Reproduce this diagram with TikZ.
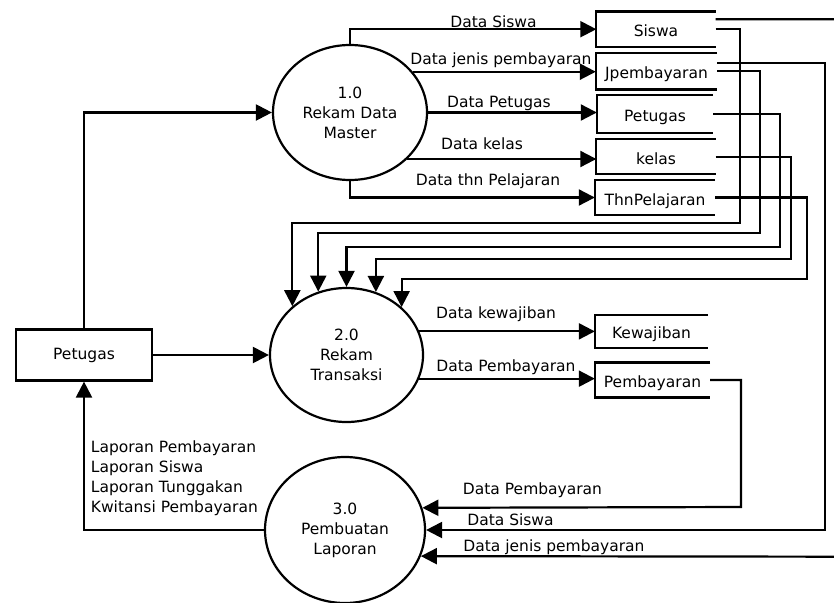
\documentclass[tikz,border=0pt]{standalone}
\usepackage{fontspec}
\setmainfont{DejaVu Sans}
\usetikzlibrary{arrows.meta,shapes.geometric}
\begin{document}
\begin{tikzpicture}[x=1pt,y=-1pt,
  every node/.style={font=\fontsize{15.5}{20}\selectfont},
  line/.style={line width=2.2pt},
  flow/.style={line, -{Triangle[length=16pt,width=16pt]}},
  process/.style={ellipse, draw, line width=2.2pt, inner sep=0pt, align=center},
  entity/.style={rectangle, draw, line width=2.2pt, minimum width=136pt, minimum height=51pt},
  store/.style={rectangle, inner sep=0pt, minimum width=119pt, minimum height=35pt,
                text height=15pt, text depth=0pt},
  lbl/.style={inner sep=0pt, text height=11pt, text depth=0pt},
]
\useasboundingbox (0,0) rectangle (834,602);
\clip (0,0) rectangle (834,602);

% processes
\node[process, minimum width=154pt, minimum height=135pt] (c1) at (350,112.5) {1.0\\Rekam Data\\Master};
\node[process, minimum width=153pt, minimum height=134pt] (c2) at (346.5,355) {2.0\\Rekam\\Transaksi};
\node[process, minimum width=160pt, minimum height=146pt] (c3) at (345,530) {3.0\\Pembuatan\\Laporan};

% external entity
\node[entity] (pet) at (84,355) {Petugas};

% data stores
\node[store] (ssiswa) at (656,29.2) {Siswa};
\node[store, minimum width=121pt, minimum height=36pt] (sjp) at (656.5,71.3) {Jpembayaran};
\node[store, minimum width=116pt, minimum height=37.5pt] (spet) at (655,113.9) {Petugas};
\node[store, minimum height=34.7pt] (skelas) at (656,156.7) {kelas};
\node[store, minimum width=120pt] (sthn) at (655,197.5) {ThnPelajaran};
\node[store, minimum width=113pt, minimum height=32.7pt] (skew) at (651.5,331.3) {Kewajiban};
\node[store, minimum width=115pt, minimum height=34.5pt] (spmb) at (652.5,380) {Pembayaran};
\foreach \s in {ssiswa,sjp,spet,skelas,sthn,skew,spmb}
  \draw[line] (\s.north east) -- (\s.north west) -- (\s.south west) -- (\s.south east);

% 1.0 -> master stores
\draw[flow] (c1.north) |- (ssiswa.west);
\draw[flow] (c1.33.6) -- (c1.33.6 -| sjp.west);
\draw[flow] (c1.east) -- (c1.east -| spet.west);
\draw[flow] (c1.-39.8) -- (c1.-39.8 -| skelas.west);
\draw[flow] (c1.south) |- (sthn.west);

% master stores -> 2.0
\draw[flow] (ssiswa.east) -| (740,222.7) -| (c2.138.9);
\draw[flow] (sjp.east) -| (760,232.7) -| (c2.114.4);
\draw[flow] (spet.east) -| (780,246.7) -| (c2.north);
\draw[flow] (skelas.east) -| (790.7,259.3) -| (c2.65.4);
\draw[flow] (sthn.east) -| (807.3,279.3) -| (c2.41.1);

% entity flows
\draw[flow] (pet.north) |- (c1.west);
\draw[flow] (pet.east) -- (c2.west);
\draw[flow] (c3.west) -| (pet.south);

% 2.0 -> transaction stores
\draw[flow] (c2.18) -- (c2.18 -| skew.west);
\draw[flow] (c2.-18.8) -- (c2.-18.8 -| spmb.west);

% stores -> 3.0
\draw[flow] (spmb.east) -| (741,507) -- (c3.16.9);
\draw[flow] ([yshift=8.6pt]sjp.east) -| (825,530) -- (c3.east);
\draw[flow] ([yshift=10pt]ssiswa.east) -| (850,556.7) -- (c3.-19.7);

% flow labels
\node[lbl] (t1) at (493.5,21.7) {Data Siswa};
\node[lbl] (t2) at (501,59.3) {Data jenis pembayaran};
\node[lbl] (t3) at (499,101.7) {Data Petugas};
\node[lbl] (t4) at (482,144) {Data kelas};
\node[lbl] (t5) at (488,180) {Data thn Pelajaran};
\node[lbl] (t6) at (496,313.3) {Data kewajiban};
\node[lbl] (t7) at (506,366) {Data Pembayaran};
\node[lbl] (t8) at (532.5,489) {Data Pembayaran};
\node[lbl] (t9) at (510.5,520) {Data Siswa};
\node[lbl] (t10) at (554,546) {Data jenis pembayaran};
\node[inner sep=0pt, align=left, anchor=west] (tlap) at (90.7,478.2)
  {Laporan Pembayaran\\Laporan Siswa\\Laporan Tunggakan\\Kwitansi Pembayaran};
\end{tikzpicture}
\end{document}
